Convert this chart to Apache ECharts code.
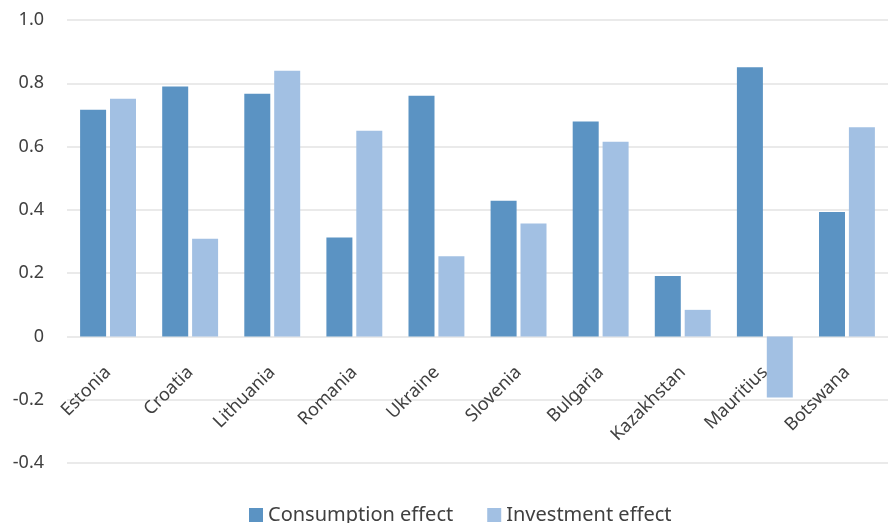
<!DOCTYPE html>
<html>
<head>
<meta charset="utf-8">
<script src="https://cdn.jsdelivr.net/npm/echarts@6/dist/echarts.min.js"></script>
<style>
  html, body { margin: 0; padding: 0; background: #fff; }
  #chart { width: 888px; height: 523px; }
</style>
</head>
<body>
<div id="chart"></div>
<script>
// Countries on the category axis
const countries = ['Estonia', 'Croatia', 'Lithuania', 'Romania', 'Ukraine',
  'Slovenia', 'Bulgaria', 'Kazakhstan', 'Mauritius', 'Botswana'];

// Effect sizes per country
const consumptionEffect = [0.716, 0.790, 0.767, 0.313, 0.761, 0.429, 0.679, 0.191, 0.851, 0.393];
const investmentEffect  = [0.751, 0.309, 0.840, 0.650, 0.253, 0.357, 0.615, 0.084, -0.193, 0.661];

// Value axis range and step
const yMin = -0.4, yMax = 1.0, yStep = 0.2;

const FONT = 'Noto Sans';
const TEXT = '#404040';
const GRID = '#e3e3e3';

// Plot area placement
const W = 888, H = 523;
const gridTop = 20, gridBottom = 60, gridLeft = 67;
const plotHeight = H - gridTop - gridBottom;
// Lift the category axis from the bottom edge up to the zero line
const zeroLift = (0 - yMin) / (yMax - yMin) * plotHeight;

const chart = echarts.init(document.getElementById('chart'), null, { renderer: 'canvas' });

chart.setOption({
  animation: false,
  textStyle: { fontFamily: FONT },
  grid: { left: gridLeft, right: 0, top: gridTop, bottom: gridBottom, containLabel: false, outerBoundsMode: 'none' },
  legend: {
    bottom: -2,
    left: 249,
    padding: 0,
    itemWidth: 14,
    itemHeight: 14,
    itemGap: 34,
    icon: 'rect',
    textStyle: { fontFamily: FONT, fontSize: 20, color: TEXT },
    data: ['Consumption effect', 'Investment effect']
  },
  xAxis: {
    type: 'category',
    data: countries,
    position: 'bottom',
    offset: -zeroLift,
    axisLine: { show: false, onZero: false },
    axisTick: { show: false },
    axisLabel: {
      rotate: 45,
      interval: 0,
      margin: 33,
      fontFamily: FONT,
      fontSize: 18,
      color: TEXT
    }
  },
  yAxis: {
    type: 'value',
    min: yMin,
    max: yMax,
    interval: yStep,
    axisLine: { show: false },
    axisTick: { show: false },
    splitLine: { lineStyle: { color: GRID, width: 1.5 } },
    axisLabel: {
      margin: 23,
      fontFamily: FONT,
      fontSize: 18,
      color: TEXT,
      formatter: v => {
        const r = Math.round(v * 10) / 10;
        return r === 0 ? '0' : r.toFixed(1);
      }
    }
  },
  series: [
    {
      name: 'Consumption effect',
      type: 'bar',
      data: consumptionEffect,
      barWidth: 26,
      barGap: '15%',
      itemStyle: { color: '#5b93c3' }
    },
    {
      name: 'Investment effect',
      type: 'bar',
      data: investmentEffect,
      barWidth: 26,
      barGap: '15%',
      itemStyle: { color: '#a2c0e3' }
    }
  ]
});
</script>
</body>
</html>
